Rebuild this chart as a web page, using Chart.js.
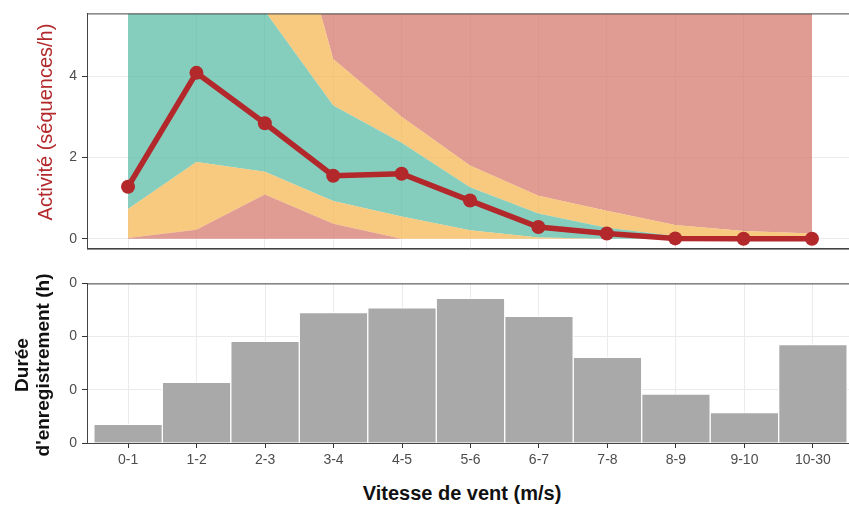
<!DOCTYPE html>
<html>
<head>
<meta charset="utf-8">
<script src="https://cdn.jsdelivr.net/npm/chart.js@4.4.1/dist/chart.umd.min.js"></script>
<style>
  html, body { margin: 0; padding: 0; background: #fff; overflow: hidden; width: 849px; height: 509px; }
  #wrap { position: relative; width: 849px; height: 509px; overflow: hidden; }
  canvas { position: absolute; left: 0; }
  #topChart { top: 0; }
  #bottomChart { top: 270px; }
  .title { position: absolute; white-space: nowrap; font-family: "Liberation Sans", Arial, sans-serif; }
  #ytitleTop { left: 45px; top: 122px; transform: translate(-50%, -50%) rotate(-90deg);
               font-size: 20px; color: #b2282b; }
  #ytitleBottom { left: 32px; top: 365px; transform: translate(-50%, -50%) rotate(-90deg);
                  font-size: 19px; font-weight: bold; color: #111; text-align: center; line-height: 21px; }
  #xtitle { left: 0; width: 924px; top: 482px; text-align: center; font-size: 20px; font-weight: bold; color: #111; }
</style>
</head>
<body>
<div id="wrap">
  <canvas id="topChart" width="860" height="262"></canvas>
  <canvas id="bottomChart" width="860" height="203"></canvas>
  <div class="title" id="ytitleTop">Activité (séquences/h)</div>
  <div class="title" id="ytitleBottom">Durée<br>d'enregistrement (h)</div>
  <div class="title" id="xtitle">Vitesse de vent (m/s)</div>
</div>
<script>
// Wind speed classes (m/s)
const categories = ['0-1', '1-2', '2-3', '3-4', '4-5', '5-6', '6-7', '7-8', '8-9', '9-10', '10-30'];

// Observed activity (sequences per hour)
const activity = [1.28, 4.08, 2.84, 1.55, 1.60, 0.94, 0.29, 0.13, 0.01, 0, 0];

// Reference envelope boundaries, from bottom to top
const lowRedTop    = [0.02, 0.22, 1.09, 0.37, 0, 0, 0, 0, 0, 0, 0];
const lowOrangeTop = [0.73, 1.89, 1.65, 0.93, 0.55, 0.21, 0.03, 0, 0, 0, 0];
const tealTop      = [8.0, 9.0, 5.6, 3.28, 2.36, 1.27, 0.62, 0.27, 0.07, 0.02, 0.01];
const highOrangeTop = [12.0, 13.0, 10.5, 4.42, 3.0, 1.8, 1.06, 0.69, 0.34, 0.19, 0.13];

// Recording duration per class
const recordingHours = [0.35, 1.14, 1.91, 2.45, 2.54, 2.72, 2.38, 1.61, 0.92, 0.57, 1.85];

// Axis ticks
const activityTicks = [0, 2, 4];
const activityTickLabels = ['0', '2', '4'];
const hoursTicks = [0, 1, 2, 3];
const hoursTickLabels = ['0', '0', '0', '0'];

const COLORS = {
  line: '#b2282b',
  teal: 'rgba(92, 190, 168, 0.75)',
  orange: 'rgba(246, 184, 86, 0.75)',
  red: 'rgba(214, 122, 111, 0.75)',
  bar: '#a9a9a9',
  grid: '#ebebeb',
  frame: '#444',
  tickText: '#4d4d4d'
};

const pts = arr => arr.map((v, i) => ({ x: i, y: v }));

// Panel frame drawn around the plotting area
const panelFrame = {
  id: 'panelFrame',
  afterDraw(chart) {
    const { ctx, chartArea: a } = chart;
    ctx.save();
    ctx.strokeStyle = COLORS.frame;
    ctx.lineWidth = 1;
    ctx.strokeRect(a.left + 0.5, a.top + 0.5, a.right - a.left - 1, a.bottom - a.top);
    ctx.restore();
  }
};

const baseFont = { family: '"Liberation Sans", Arial, sans-serif', size: 14 };

function xScale(showLabels) {
  return {
    type: 'linear',
    min: -0.6,
    max: 10.6,
    offset: false,
    afterBuildTicks: s => { s.ticks = categories.map((c, i) => ({ value: i })); },
    afterFit: s => { s.height = showLabels ? 30 : 0; },
    ticks: {
      display: showLabels,
      color: COLORS.tickText,
      font: baseFont,
      padding: 4,
      maxRotation: 0,
      autoSkip: false,
      callback: v => categories[v]
    },
    grid: {
      offset: false,
      color: COLORS.grid,
      lineWidth: 1,
      drawTicks: showLabels,
      tickLength: 5,
      tickColor: '#333',
      tickWidth: 1
    },
    border: { display: true, color: COLORS.frame, width: 1 }
  };
}

function yScale(min, max, ticks, labels) {
  return {
    min, max,
    afterBuildTicks: s => { s.ticks = ticks.map(v => ({ value: v })); },
    afterFit: s => { s.width = 87; },
    ticks: {
      color: COLORS.tickText,
      font: baseFont,
      padding: 5,
      callback: (v, i) => labels[i]
    },
    grid: {
      color: COLORS.grid,
      lineWidth: 1,
      tickLength: 5,
      tickColor: '#333',
      tickWidth: 1
    },
    border: { display: true, color: COLORS.frame, width: 1 }
  };
}

const band = (data, color, fill) => ({
  type: 'line',
  data: pts(data),
  borderWidth: 0,
  pointRadius: 0,
  backgroundColor: color,
  fill,
  tension: 0,
  order: 1
});

new Chart(document.getElementById('topChart'), {
  type: 'line',
  data: {
    datasets: [
      band(lowRedTop, COLORS.red, 'origin'),
      band(lowOrangeTop, COLORS.orange, '-1'),
      band(tealTop, COLORS.teal, '-1'),
      band(highOrangeTop, COLORS.orange, '-1'),
      band(highOrangeTop, COLORS.red, 'end'),
      {
        type: 'line',
        data: pts(activity),
        borderColor: COLORS.line,
        borderWidth: 5.5,
        pointRadius: 7,
        pointBackgroundColor: COLORS.line,
        pointBorderColor: COLORS.line,
        pointBorderWidth: 0,
        fill: false,
        tension: 0,
        order: 0
      }
    ]
  },
  options: {
    responsive: false,
    animation: false,
    devicePixelRatio: 1,
    layout: { padding: { top: 12, right: 6, bottom: 10, left: 0 } },
    plugins: { legend: { display: false }, tooltip: { enabled: false } },
    scales: {
      x: xScale(false),
      y: yScale(-0.241, 5.542, activityTicks, activityTickLabels)
    }
  },
  plugins: [panelFrame]
});

new Chart(document.getElementById('bottomChart'), {
  type: 'bar',
  data: {
    datasets: [{
      data: pts(recordingHours),
      backgroundColor: COLORS.bar,
      borderColor: '#fff',
      borderWidth: 1,
      borderSkipped: 'start',
      barPercentage: 1,
      categoryPercentage: 1
    }]
  },
  options: {
    responsive: false,
    animation: false,
    devicePixelRatio: 1,
    layout: { padding: { top: 12, right: 6, bottom: 0, left: 0 } },
    plugins: { legend: { display: false }, tooltip: { enabled: false } },
    scales: {
      x: xScale(true),
      y: yScale(0, 3, hoursTicks, hoursTickLabels)
    }
  },
  plugins: [panelFrame]
});
</script>
</body>
</html>
